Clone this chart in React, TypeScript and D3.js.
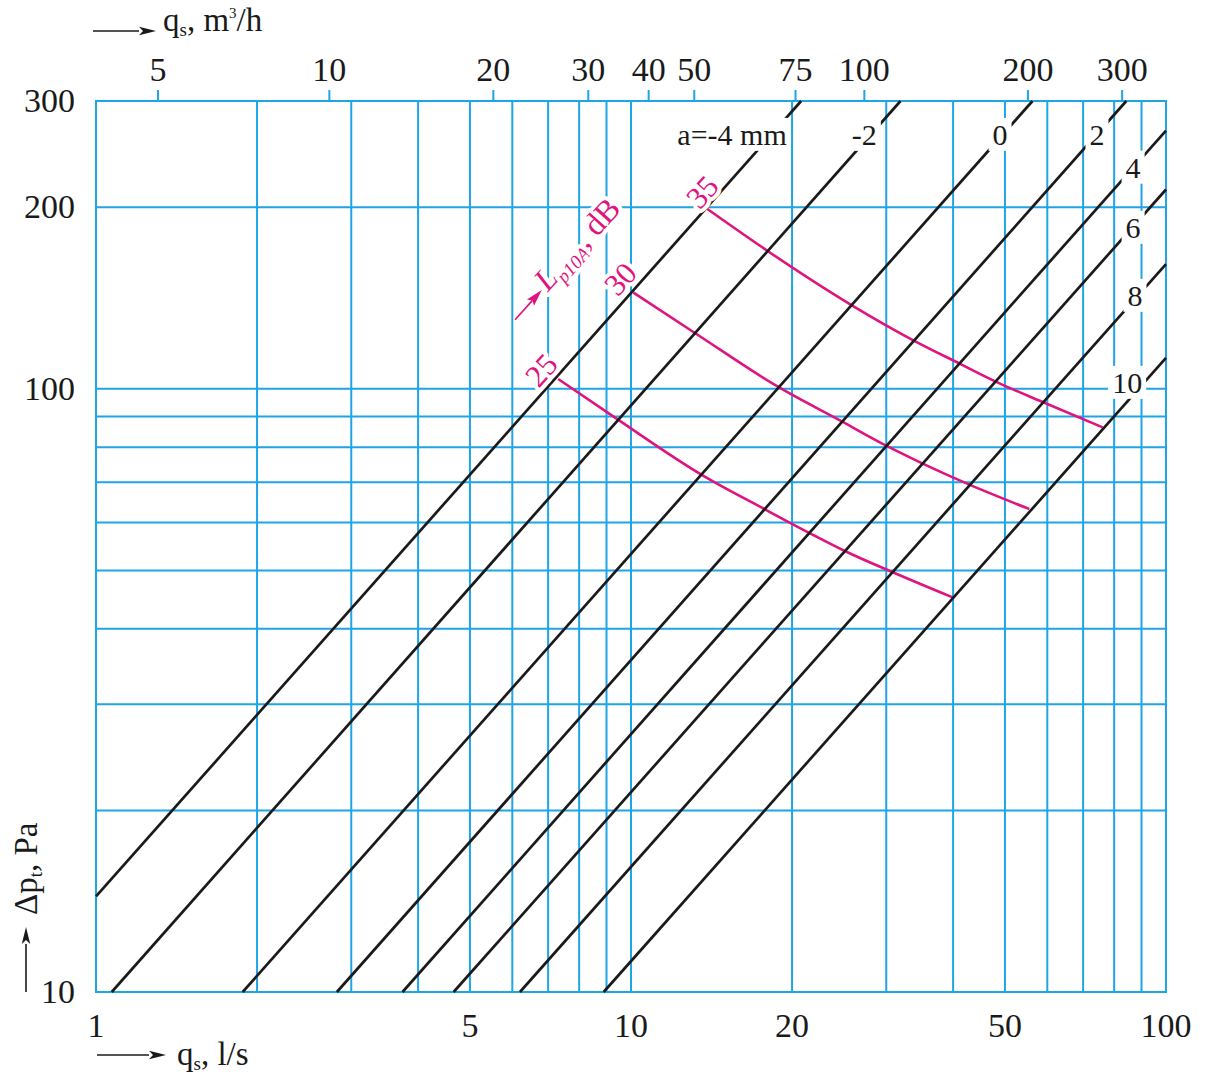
import React, { useEffect, useRef } from 'react';
import * as d3 from 'd3';

// ---- axes (flow rate q_s in l/s, total pressure loss Δp_t in Pa) ----
const xDomain = [1, 100];
const yDomain = [10, 300];
const xGridValues = [2, 3, 4, 5, 6, 7, 8, 9, 10, 20, 30, 40, 50, 60, 70, 80, 90];
const yGridValues = [20, 30, 40, 50, 60, 70, 80, 90, 100, 200];
const bottomTickValues = [1, 5, 10, 20, 50, 100];
const leftTickValues = [10, 100, 200, 300];
// top axis in m³/h, positions as read on the l/s scale
const topTickLabels = ['5', '10', '20', '30', '40', '50', '75', '100', '200', '300'];
const topTickAtLs = [1.306, 2.73, 5.53, 8.32, 10.79, 13.13, 20.3, 27.3, 55.2, 82.8];

// ---- black lines: setting a (mm) ----
const lineNames = ['a=-4 mm', '-2', '0', '2', '4', '6', '8', '10'];
const lineStartQ = [1, 1.07, 1.88, 2.82, 3.74, 4.66, 6.2, 8.89];
const lineStartDp = [14.4, 10, 10, 10, 10, 10, 10, 10];
const lineEndQ = [20.8, 31.9, 56.3, 84.3, 100, 100, 100, 100];
const lineEndDp = [300, 300, 300, 300, 268, 214, 161, 112.5];
const lineLabelQ = [15.45, 27.3, 48.96, 74.3, 86.8, 86.8, 87.5, 84.6];
const lineLabelDp = [263.6, 263.6, 263.6, 263.6, 232.6, 184.9, 142.6, 102.3];

// ---- magenta curves: sound level L_p10A (dB) ----
const noiseLevels = ['25', '30', '35'];
const curve25Q = [7.31, 9.47, 13.56, 17.75, 21.61, 25.04, 30.93, 39.93];
const curve25Dp = [103.8, 88.8, 72.0, 63.2, 57.6, 53.9, 49.6, 45.1];
const curve30Q = [10.1, 13.23, 18.85, 24.77, 30.06, 34.94, 43.02, 55.52];
const curve30Dp = [144.4, 123.4, 100.7, 88.3, 80.4, 75.3, 69.3, 63.2];
const curve35Q = [13.89, 18.06, 25.78, 33.84, 41.21, 48.27, 59.4, 76.15];
const curve35Dp = [198.6, 168.9, 137.8, 120.1, 110.0, 102.6, 94.7, 86.3];
const noiseLabelQ = [6.79, 9.54, 13.57];
const noiseLabelDp = [107.5, 152.2, 212.1];
const dbLabelQ = 6.945;
const dbLabelDp = 143.6;

const GRID = '#1ea5e6';
const MAGENTA = '#e0147e';
const INK = '#1a1a1a';
const SERIF = '"Liberation Serif", "Times New Roman", serif';

export default function App() {
  const ref = useRef<SVGSVGElement>(null);

  useEffect(() => {
    const svg = d3.select(ref.current);
    svg.selectAll('*').remove();

    const x = d3.scaleLog().domain(xDomain).range([96, 1166]);
    const y = d3.scaleLog().domain(yDomain).range([992, 101]);

    svg.append('rect').attr('width', 1228).attr('height', 1080).attr('fill', '#fff');

    // grid
    const grid = svg.append('g').attr('stroke', GRID).attr('stroke-width', 2);
    grid.selectAll('line.v').data(xGridValues).join('line')
      .attr('x1', d => x(d)).attr('x2', d => x(d))
      .attr('y1', y(yDomain[1])).attr('y2', y(yDomain[0]));
    grid.selectAll('line.h').data(yGridValues).join('line')
      .attr('y1', d => y(d)).attr('y2', d => y(d))
      .attr('x1', x(xDomain[0])).attr('x2', x(xDomain[1]));
    grid.append('rect')
      .attr('x', x(xDomain[0])).attr('y', y(yDomain[1]))
      .attr('width', x(xDomain[1]) - x(xDomain[0]))
      .attr('height', y(yDomain[0]) - y(yDomain[1]))
      .attr('fill', 'none');
    // top ticks
    grid.selectAll('line.t').data(topTickAtLs).join('line')
      .attr('x1', d => x(d)).attr('x2', d => x(d))
      .attr('y1', y(yDomain[1])).attr('y2', y(yDomain[1]) - 11);

    // tick labels
    const txt = svg.append('g').attr('font-family', SERIF).attr('fill', INK).attr('font-size', 34);
    txt.selectAll('text.top').data(topTickLabels).join('text')
      .attr('x', (_, i) => x(topTickAtLs[i])).attr('y', 81)
      .attr('text-anchor', 'middle').text(d => d);
    txt.selectAll('text.bottom').data(bottomTickValues).join('text')
      .attr('x', d => x(d)).attr('y', 1037)
      .attr('text-anchor', 'middle').text(d => String(d));
    txt.selectAll('text.left').data(leftTickValues).join('text')
      .attr('x', 75).attr('y', d => y(d) + 11)
      .attr('text-anchor', 'end').text(d => String(d));

    // axis titles with arrows
    const arrow = (x1: number, y1: number, x2: number, y2: number) => {
      const ang = Math.atan2(y2 - y1, x2 - x1);
      const L = 17, hw = 4.2;
      const bx = x2 - L * Math.cos(ang), by = y2 - L * Math.sin(ang);
      const g = svg.append('g');
      g.append('line').attr('x1', x1).attr('y1', y1).attr('x2', bx).attr('y2', by)
        .attr('stroke', INK).attr('stroke-width', 1.6);
      g.append('path')
        .attr('d', `M${x2},${y2} L${bx - hw * Math.sin(ang)},${by + hw * Math.cos(ang)} L${bx + 4 * Math.cos(ang)},${by + 4 * Math.sin(ang)} L${bx + hw * Math.sin(ang)},${by - hw * Math.cos(ang)} Z`)
        .attr('fill', INK);
    };
    arrow(93, 31, 156, 31);
    arrow(97, 1055, 166, 1055);
    arrow(26, 992, 26, 927);

    const ttl = svg.append('g').attr('font-family', SERIF).attr('fill', INK).attr('font-size', 33);
    const topTitle = ttl.append('text').attr('x', 163).attr('y', 31);
    topTitle.append('tspan').text('q');
    topTitle.append('tspan').attr('font-size', 19).attr('dy', 5).text('s');
    topTitle.append('tspan').attr('dy', -5).text(', m');
    topTitle.append('tspan').attr('font-size', 15).attr('dy', -13).text('3');
    topTitle.append('tspan').attr('dy', 13).text('/h');

    const botTitle = ttl.append('text').attr('x', 177).attr('y', 1065);
    botTitle.append('tspan').text('q');
    botTitle.append('tspan').attr('font-size', 19).attr('dy', 5).text('s');
    botTitle.append('tspan').attr('dy', -5).text(', l/s');

    const leftTitle = ttl.append('text').attr('transform', 'translate(37,915) rotate(-90)');
    leftTitle.append('tspan').text('Δp');
    leftTitle.append('tspan').attr('font-size', 19).attr('dy', 5).text('t');
    leftTitle.append('tspan').attr('dy', -5).text(', Pa');

    // magenta curves
    const lineGen = d3.line<[number, number]>()
      .x(d => x(d[0])).y(d => y(d[1])).curve(d3.curveMonotoneX);
    const curves: [number[], number[]][] = [
      [curve25Q, curve25Dp], [curve30Q, curve30Dp], [curve35Q, curve35Dp],
    ];
    svg.append('g').selectAll('path').data(curves).join('path')
      .attr('d', ([qs, ps]) => lineGen(qs.map((q, i) => [q, ps[i]] as [number, number])))
      .attr('fill', 'none').attr('stroke', MAGENTA).attr('stroke-width', 2.6);

    // black lines
    svg.append('g').selectAll('line').data(lineNames).join('line')
      .attr('x1', (_, i) => x(lineStartQ[i])).attr('y1', (_, i) => y(lineStartDp[i]))
      .attr('x2', (_, i) => x(lineEndQ[i])).attr('y2', (_, i) => y(lineEndDp[i]))
      .attr('stroke', INK).attr('stroke-width', 2.7);

    // black labels with white background
    lineNames.forEach((name, i) => {
      const g = svg.append('g');
      const r = g.append('rect').attr('fill', '#fff');
      const t = g.append('text')
        .attr('x', x(lineLabelQ[i])).attr('y', y(lineLabelDp[i]) + 10)
        .attr('text-anchor', 'middle').attr('font-family', SERIF)
        .attr('font-size', 30).attr('fill', INK).text(name);
      const bb = (t.node() as SVGTextElement).getBBox();
      r.attr('x', bb.x - 4).attr('y', bb.y).attr('width', bb.width + 8).attr('height', bb.height);
    });

    // magenta number labels
    const halo = (s: any) => s.attr('stroke', '#fff').attr('stroke-width', 8)
      .attr('stroke-linejoin', 'round').attr('paint-order', 'stroke');
    noiseLevels.forEach((lab, i) => {
      svg.append('text')
        .attr('transform', `translate(${x(noiseLabelQ[i])},${y(noiseLabelDp[i])}) rotate(-48)`)
        .attr('text-anchor', 'middle').attr('dy', '0.35em')
        .attr('font-family', SERIF).attr('font-size', 31).attr('fill', MAGENTA)
        .call(halo).text(lab);
    });

    // L_p10A, dB label
    const dg = svg.append('g')
      .attr('transform', `translate(${x(dbLabelQ)},${y(dbLabelDp)}) rotate(-48)`);
    dg.append('line').attr('x1', -40).attr('y1', -6).attr('x2', -14).attr('y2', -6)
      .attr('stroke', MAGENTA).attr('stroke-width', 1.7);
    dg.append('path').attr('d', 'M0,-6 L-17,-10.8 L-14,-6 L-17,-1.2 Z').attr('fill', MAGENTA);
    const dt = dg.append('text').attr('x', 2).attr('y', 0)
      .attr('font-family', SERIF).attr('font-size', 32).attr('fill', MAGENTA).call(halo);
    dt.append('tspan').attr('font-style', 'italic').text('L');
    dt.append('tspan').attr('font-style', 'italic').attr('font-size', 19).attr('dy', 7).text('p10A');
    dt.append('tspan').attr('dy', -7).text(', dB');
  }, []);

  return (
    <svg
      ref={ref}
      width={1228}
      height={1080}
      style={{ position: 'absolute', left: 0, top: 0, display: 'block' }}
    />
  );
}
